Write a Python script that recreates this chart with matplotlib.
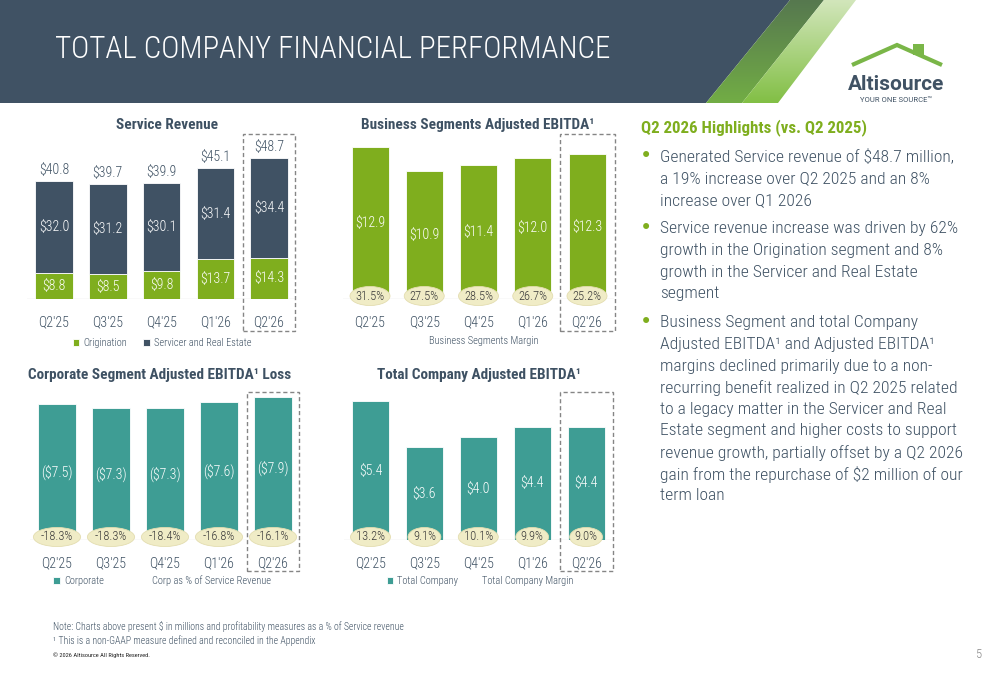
import matplotlib
matplotlib.use("Agg")
import matplotlib.pyplot as plt
from matplotlib.patches import Rectangle, Ellipse, Polygon, Patch
from matplotlib.transforms import blended_transform_factory
import numpy as np

# ---------------- data ----------------
quarters = ["Q2'25", "Q3'25", "Q4'25", "Q1'26", "Q2'26"]
origination = [8.8, 8.5, 9.8, 13.7, 14.3]
servicer_re = [32.0, 31.2, 30.1, 31.4, 34.4]
service_total = [40.8, 39.7, 39.9, 45.1, 48.7]
bs_ebitda = [12.9, 10.9, 11.4, 12.0, 12.3]
bs_margin = [31.5, 27.5, 28.5, 26.7, 25.2]
corp_loss = [-7.5, -7.3, -7.3, -7.6, -7.9]
corp_pct = [-18.3, -18.3, -18.4, -16.8, -16.1]
tc_ebitda = [5.4, 3.6, 4.0, 4.4, 4.4]
tc_margin = [13.2, 9.1, 10.1, 9.9, 9.0]

title_text = "TOTAL COMPANY FINANCIAL PERFORMANCE"
highlights_title = "Q2 2026 Highlights (vs. Q2 2025)"
bullets = [
    ["Generated Service revenue of $48.7 million,",
     "a 19% increase over Q2 2025 and an 8%",
     "increase over Q1 2026"],
    ["Service revenue increase was driven by 62%",
     "growth in the Origination segment and 8%",
     "growth in the Servicer and Real Estate",
     "segment"],
    ["Business Segment and total Company",
     "Adjusted EBITDA\u00b9 and Adjusted EBITDA\u00b9",
     "margins declined primarily due to a non-",
     "recurring benefit realized in Q2 2025 related",
     "to a legacy matter in the Servicer and Real",
     "Estate segment and higher costs to support",
     "revenue growth, partially offset by a Q2 2026",
     "gain from the repurchase of $2 million of our",
     "term loan"],
]
footnotes = ["Note: Charts above present $ in millions and profitability measures as a % of Service revenue",
             "\u00b9 This is a non-GAAP measure defined and reconciled in the Appendix"]
copyright_text = "\u00a9 2026 Altisource All Rights Reserved."

# ---------------- style ----------------
FONT = ['Roboto Condensed', 'DejaVu Sans']
plt.rcParams['font.family'] = FONT
SLATE = '#405264'
TXT = '#3e5163'
GREEN = '#7fae1e'
TEAL = '#3e9d94'
CREAM = '#f0ecc6'
W, H = 1000, 685

fig = plt.figure(figsize=(10, 6.85), dpi=100)
fig.patch.set_facecolor('white')

# ---------------- header ----------------
bg = fig.add_axes([0, 0, 1, 1], zorder=-10)
bg.set_xlim(0, W)
bg.set_ylim(H, 0)
bg.set_axis_off()
bg.add_patch(Polygon([(0, 0), (790, 0), (706, 103), (0, 103)], closed=True,
                     facecolor=SLATE, edgecolor='none'))


def grad_stripe(poly, c_top, c_bot):
    ct = np.array(matplotlib.colors.to_rgb(c_top))
    cb = np.array(matplotlib.colors.to_rgb(c_bot))
    t = np.linspace(0, 1, 103)[:, None, None]
    img = ct * (1 - t) + cb * t
    im = bg.imshow(img, extent=[690, 870, 103, 0], aspect='auto', zorder=1)
    p = Polygon(poly, closed=True, transform=bg.transData, facecolor='none', edgecolor='none')
    bg.add_patch(p)
    im.set_clip_path(p)


grad_stripe([(706, 103), (742, 103), (824, 0), (790, 0)], '#56784f', '#72ad45')
grad_stripe([(742, 103), (778, 103), (856, 0), (824, 0)], '#d2e6bb', '#82bf45')

fig.text(55 / W, 1 - 50 / H, title_text, fontsize=22.2, fontweight='light', color='white',
         va='center', ha='left')

# logo
bg.plot([852, 897, 942], [65, 45, 65], color='#7ab648', lw=3, solid_capstyle='butt',
        solid_joinstyle='miter')
bg.add_patch(Rectangle((913, 44), 11, 11, facecolor='#7ab648', edgecolor='none'))
fig.text(896 / W, 1 - 85 / H, "Altisource", fontsize=15, fontweight='bold', color=SLATE,
         ha='center', va='center', family=['Roboto', 'DejaVu Sans'])
fig.text(896 / W, 1 - 100 / H, "YOUR ONE SOURCE\u2122", fontsize=5.5, color=SLATE,
         ha='center', va='center', family=['Roboto', 'DejaVu Sans'])


# ---------------- charts ----------------
def make_chart(center0, spacing, baseline, top, scale):
    left = center0 - spacing / 2
    right = center0 + 4.5 * spacing
    ax = fig.add_axes([left / W, 1 - baseline / H, (right - left) / W, (baseline - top) / H])
    ax.set_xlim(-0.5, 4.5)
    ax.set_ylim(0, (baseline - top) / scale)
    ax.patch.set_alpha(0)
    for s in ax.spines.values():
        s.set_visible(False)
    ax.set_yticks([])
    ax.set_xticks(range(len(quarters)))
    ax.set_xticklabels(quarters, fontsize=10, color=TXT, fontweight='light')
    ax.tick_params(axis='x', length=0, pad=12)
    ax.axhline(0, color='#e4e4e4', lw=1, zorder=0)
    return ax


def dashed_box(ax, ytop_px, ybot_px, half):
    tr = blended_transform_factory(ax.transData, fig.transFigure)
    x = len(quarters) - 1
    r = Rectangle((x - half, 1 - ybot_px / H), 2 * half, (ybot_px - ytop_px) / H,
                  transform=tr, facecolor='none', edgecolor='#858585', lw=1,
                  linestyle=(0, (3, 2)), clip_on=False, zorder=5)
    ax.add_patch(r)


def margin_ovals(ax, labels, spacing, scale):
    for i, lab in enumerate(labels):
        wpx = 7.2 * len(lab) + 4
        yc = 3 / scale
        ax.add_patch(Ellipse((i, yc), wpx / spacing, 19 / scale, facecolor=CREAM,
                             edgecolor='#e3ddb0', lw=0.6, clip_on=False, zorder=4))
        ax.text(i, yc, lab, ha='center', va='center', fontsize=9, color='#3a3a3a',
                fontweight='light', zorder=5)


def chart_title(x, y, s):
    fig.text(x / W, 1 - y / H, s, fontsize=11, fontweight='bold', color=TXT,
             ha='center', va='center')


LEG = dict(loc='center', bbox_transform=fig.transFigure, frameon=False,
           handlelength=0.65, handleheight=0.65, handletextpad=0.35, borderpad=0,
           labelcolor=TXT, prop={'size': 7.5, 'weight': 'light', 'family': FONT})
blank = Patch(facecolor='none', edgecolor='none')

# --- Service revenue ---
sp, sc = 53.75, 2.9
ax1 = make_chart(54, sp, 299, 130, sc)
x = np.arange(len(quarters))
bw = 37.5 / sp
b_or = ax1.bar(x, origination, width=bw, color=GREEN, edgecolor='white', lw=0.6)
b_sr = ax1.bar(x, servicer_re, bottom=origination, width=bw, color=SLATE,
               edgecolor='white', lw=0.6)
for i in range(len(quarters)):
    ax1.text(i, origination[i] / 2, f"${origination[i]:.1f}", ha='center', va='center',
             color='white', fontsize=10, fontweight='light')
    ax1.text(i, origination[i] + servicer_re[i] / 2, f"${servicer_re[i]:.1f}",
             ha='center', va='center', color='white', fontsize=10, fontweight='light')
    ax1.annotate(f"${service_total[i]:.1f}", (i, service_total[i]), xytext=(0, 3),
                 textcoords='offset points', ha='center', va='bottom', color=TXT,
                 fontsize=10, fontweight='light')
dashed_box(ax1, 134, 331, 26 / sp)
chart_title(167, 125, "Service Revenue")
ax1.legend([b_or, b_sr], ["Origination", "Servicer and Real Estate"], ncol=2,
           bbox_to_anchor=(162 / W, 1 - 343 / H), columnspacing=1.6, **LEG)

# --- Business segments adjusted EBITDA ---
sp2, sc2 = 54.25, 11.78
ax2 = make_chart(370, sp2, 299, 130, sc2)
b_bs = ax2.bar(x, bs_ebitda, width=37 / sp2, color=GREEN, edgecolor='white', lw=0.6)
for i, v in enumerate(bs_ebitda):
    ax2.text(i, v / 2, f"${v:.1f}", ha='center', va='center', color='white', fontsize=10,
             fontweight='light')
margin_ovals(ax2, [f"{m:.1f}%" for m in bs_margin], sp2, sc2)
dashed_box(ax2, 134, 331, 27.5 / sp2)
chart_title(478, 125, "Business Segments Adjusted EBITDA\u00b9")
ax2.legend([blank], ["Business Segments Margin"], bbox_to_anchor=(479 / W, 1 - 341 / H), **LEG)

# --- Corporate segment adjusted EBITDA loss ---
sp3, sc3 = 54, 18.1
ax3 = make_chart(57, sp3, 540, 385, sc3)
b_co = ax3.bar(x, [-v for v in corp_loss], width=38 / sp3, color=TEAL, edgecolor='white', lw=0.6)
for i, v in enumerate(corp_loss):
    ax3.text(i, -v / 2, f"(${-v:.1f})", ha='center', va='center', color='white', fontsize=10,
             fontweight='light')
margin_ovals(ax3, [f"{m:.1f}%" for m in corp_pct], sp3, sc3)
dashed_box(ax3, 392, 571, 26 / sp3)
chart_title(160, 375, "Corporate Segment Adjusted EBITDA\u00b9 Loss")
ax3.legend([b_co, blank], ["Corporate", "Corp as % of Service Revenue"], ncol=2,
           bbox_to_anchor=(162 / W, 1 - 581 / H), columnspacing=3.6, **LEG)

# --- Total company adjusted EBITDA ---
sp4, sc4 = 53.9, 25.7
ax4 = make_chart(370.5, sp4, 540, 385, sc4)
b_tc = ax4.bar(x, tc_ebitda, width=37 / sp4, color=TEAL, edgecolor='white', lw=0.6)
for i, v in enumerate(tc_ebitda):
    ax4.text(i, v / 2, f"${v:.1f}", ha='center', va='center', color='white', fontsize=10,
             fontweight='light')
margin_ovals(ax4, [f"{m:.1f}%" for m in tc_margin], sp4, sc4)
dashed_box(ax4, 392, 571, 26.5 / sp4)
chart_title(479, 375, "Total Company Adjusted EBITDA\u00b9")
ax4.legend([b_tc, blank], ["Total Company", "Total Company Margin"], ncol=2,
           bbox_to_anchor=(480 / W, 1 - 581 / H), columnspacing=1.3, **LEG)

# ---------------- highlights ----------------
fig.text(641 / W, 1 - 128 / H, highlights_title, fontsize=12.2, fontweight='bold', color=GREEN,
         ha='left', va='center')
para_starts = [157, 229, 323]
lh = 21.6
for p, lines in zip(para_starts, bullets):
    fig.text(646 / W, 1 - (p - 1) / H, "\u2022", fontsize=15, color=GREEN, ha='center',
             va='center', family=['DejaVu Sans'])
    for k, line in enumerate(lines):
        fig.text(660 / W, 1 - (p + k * lh) / H, line, fontsize=12.6, fontweight='light',
                 color=TXT, ha='left', va='center')

# ---------------- footer ----------------
fig.text(53 / W, 1 - 627 / H, footnotes[0], fontsize=7, fontweight='light', color=TXT,
         ha='left', va='center')
fig.text(53 / W, 1 - 641 / H, footnotes[1], fontsize=7, fontweight='light', color=TXT,
         ha='left', va='center')
fig.text(53 / W, 1 - 655 / H, copyright_text, fontsize=4.6, color='#222222',
         ha='left', va='center')
fig.text(979 / W, 1 - 654 / H, "5", fontsize=9, fontweight='light', color='#888888',
         ha='center', va='center')

fig.savefig("out.png", dpi=100, facecolor='white')
